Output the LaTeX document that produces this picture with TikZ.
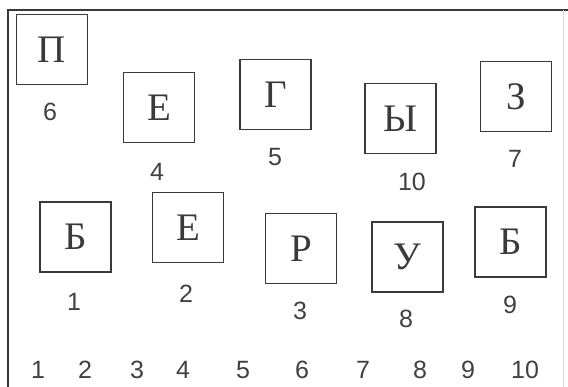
\documentclass[tikz,border=0pt]{standalone}
\usepackage{fontspec}
\setmainfont{Liberation Serif}
\newfontfamily\numfont{Liberation Sans}
\definecolor{ink}{HTML}{3A3A3A}
\definecolor{numink}{HTML}{404040}
\definecolor{faint}{HTML}{D8D8D8}
\begin{document}
\begin{tikzpicture}[x=1pt,y=-1pt,
  lbox/.style={draw=ink,line width=1.6pt,minimum width=71pt,minimum height=70pt,inner sep=0pt,
    text=ink,font=\fontsize{39}{39}\selectfont},
  num/.style={text=numink,inner sep=0pt,font=\numfont\fontsize{25}{25}\selectfont}]
\useasboundingbox (0,0) rectangle (568,387);
% frame
\draw[ink,line width=1.6pt] (8,387) -- (8,10) -- (568,10);
\draw[faint,line width=1pt] (563,10) -- (563,387);
% letter boxes
\node[lbox] (b6) at (52,49.5) {П};
\node[lbox] (b4) at (159,107.5) {Е};
\node[lbox] (b5) at (275.5,94.5) {Г};
\node[lbox] (b10) at (400.5,118.5) {Ы};
\node[lbox] (b7) at (516,96.5) {З};
\node[lbox] (b1) at (75.5,237) {Б};
\node[lbox] (b2) at (188,227.5) {Е};
\node[lbox] (b3) at (301,248.5) {Р};
\node[lbox] (b8) at (407.5,257) {У};
\node[lbox] (b9) at (510.5,242) {Б};
% labels
\node[num] (l6) at (50,112) {6};
\node[num] (l4) at (157,172) {4};
\node[num] (l5) at (275,157) {5};
\node[num] (l10) at (412,182) {10};
\node[num] (l7) at (515,159) {7};
\node[num] (l1) at (74,302) {1};
\node[num] (l2) at (186,294) {2};
\node[num] (l3) at (300,311) {3};
\node[num] (l8) at (406,319) {8};
\node[num] (l9) at (510,305) {9};
% bottom row
\node[num] (r1) at (38,370) {1};
\node[num] (r2) at (85,370) {2};
\node[num] (r3) at (137,370) {3};
\node[num] (r4) at (183,370) {4};
\node[num] (r5) at (243,370) {5};
\node[num] (r6) at (302,370) {6};
\node[num] (r7) at (363,370) {7};
\node[num] (r8) at (420,370) {8};
\node[num] (r9) at (468,370) {9};
\node[num] (r10) at (525,370) {10};
\end{tikzpicture}
\end{document}
